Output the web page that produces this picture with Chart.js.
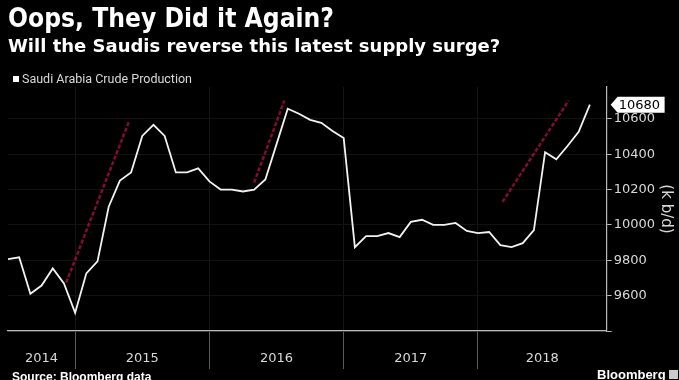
<!DOCTYPE html>
<html>
<head>
<meta charset="utf-8">
<script src="https://cdn.jsdelivr.net/npm/chart.js@4.4.1/dist/chart.umd.min.js"></script>
<style>
  html, body { margin: 0; padding: 0; background: #000; }
  #wrap { position: relative; width: 679px; height: 380px; background: #000; overflow: hidden; }
  #chart { position: absolute; left: 0; top: 0; }
  .txt { position: absolute; white-space: nowrap; transform-origin: 0 0; }
  #title { left: 8px; top: 3px; color: #fff; font: bold 26px 'DejaVu Sans'; transform: scaleX(0.905); }
  #subtitle { left: 8px; top: 35px; color: #fff; font: bold 18px 'DejaVu Sans'; }
  #legend { left: 13px; top: 71px; color: #d8d8d8; font: 12.5px Roboto; }
  #legend span { display: inline-block; width: 6px; height: 6px; background: #fff; margin-right: 3px; vertical-align: 1px; }
  #source { left: 12px; top: 370px; color: #fff; font: bold 12px 'Liberation Sans'; }
  #brand { left: 597px; top: 367px; color: #fff; font: bold 13px 'Liberation Sans'; }
  #brand span { display: inline-block; width: 9px; height: 9px; background: #ccc; margin-left: 3px; }
</style>
</head>
<body>
<div id="wrap">
  <canvas id="chart" width="679" height="380"></canvas>
  <div class="txt" id="title">Oops, They Did it Again?</div>
  <div class="txt" id="subtitle">Will the Saudis reverse this latest supply surge?</div>
  <div class="txt" id="legend"><span></span>Saudi Arabia Crude Production</div>
  <div class="txt" id="source">Source: Bloomberg data</div>
  <div class="txt" id="brand">Bloomberg<span></span></div>
</div>
<script>
// Monthly data, first point is July 2014
const firstYear = 2014;
const firstMonth = 7;
const years = ['2014', '2015', '2016', '2017', '2018'];

// Saudi crude production, thousand barrels a day
const production = [
    9806, 9817, 9611, 9657, 9754, 9669,               // Jul-Dec 2014
    9503, 9726, 9794, 10103, 10251, 10297,            // 2015
    10503, 10566, 10503, 10297, 10297, 10320,
    10246, 10200, 10200, 10189, 10200, 10257,         // 2016
    10457, 10657, 10629, 10594, 10577, 10531,
    10491, 9874, 9937, 9937, 9954, 9931,              // 2017
    10017, 10029, 10000, 10000, 10011, 9966,
    9954, 9960, 9886, 9874, 9897, 9971,               // 2018
    10411, 10371, 10446, 10526, 10680
];

// the red "surge" strokes: [month index, value] start and end
const surges = [
    [[5.2, 9674], [10.8, 10583]],
    [[22.0, 10240], [24.7, 10703]],
    [[44.2, 10131], [50.1, 10703]]
];

const yTicks = [9400, 9600, 9800, 10000, 10200, 10400, 10600];

// month index where each year starts, and the middle of each visible year
const lastIndex = 53.5;
const yearStarts = years.slice(1).map(y => (+y - firstYear) * 12 - (firstMonth - 1));
const yearMids = years.map((y, i) => {
    const a = i === 0 ? 0 : yearStarts[i - 1];
    const b = i < yearStarts.length ? yearStarts[i] : lastIndex;
    return (a + b) / 2;
});

const lastValueTag = {
    id: 'lastValueTag',
    afterDraw(chart) {
        const ctx = chart.ctx;
        const y = chart.scales.y.getPixelForValue(production[production.length - 1]);
        const x = chart.chartArea.right + 5;
        ctx.save();
        ctx.fillStyle = '#fff';
        ctx.beginPath();
        ctx.moveTo(x - 1, y);
        ctx.lineTo(x + 6, y - 8);
        ctx.lineTo(x + 53, y - 8);
        ctx.lineTo(x + 53, y + 8);
        ctx.lineTo(x + 6, y + 8);
        ctx.closePath();
        ctx.fill();
        ctx.fillStyle = '#000';
        ctx.font = '13px "DejaVu Sans"';
        ctx.textBaseline = 'middle';
        ctx.fillText(String(production[production.length - 1]), x + 7, y + 1);
        ctx.restore();
    }
};

const surgeSets = surges.map(s => ({
    data: s.map(p => ({ x: p[0], y: p[1] })),
    borderColor: 'rgba(175, 18, 65, 0.75)',
    borderWidth: 2.5,
    borderDash: [4, 2],
    pointRadius: 0,
    tension: 0
}));

new Chart(document.getElementById('chart'), {
    type: 'line',
    data: {
        datasets: [{
            label: 'Saudi Arabia Crude Production',
            data: production.map((v, i) => ({ x: i, y: v })),
            borderColor: '#f2f2f2',
            borderWidth: 1.8,
            pointRadius: 0,
            tension: 0
        }].concat(surgeSets)
    },
    options: {
        responsive: false,
        animation: false,
        layout: { padding: { left: 8, right: 2, top: 87, bottom: 9 } },
        plugins: { legend: { display: false }, tooltip: { enabled: false } },
        scales: {
            x: {
                type: 'linear',
                min: 0,
                max: lastIndex,
                afterBuildTicks: axis => {
                    axis.ticks = yearStarts.concat(yearMids).sort((a, b) => a - b).map(v => ({ value: v }));
                },
                // year dividers run down through the label row, so the labels sit inside the tick length
                afterFit: axis => { axis.height = 40; },
                ticks: {
                    autoSkip: false,
                    maxRotation: 0,
                    padding: -18,
                    color: '#d8d8d8',
                    font: { family: 'DejaVu Sans', size: 13 },
                    callback: v => {
                        const i = yearMids.indexOf(v);
                        return i >= 0 ? years[i] : '';
                    }
                },
                grid: {
                    tickLength: 38,
                    color: c => yearStarts.includes(c.tick && c.tick.value) ? '#151515' : 'transparent',
                    tickColor: c => yearStarts.includes(c.tick && c.tick.value) ? '#5a5a5a' : 'transparent'
                },
                border: { color: '#bbb', width: 1.2 }
            },
            y: {
                position: 'right',
                min: 9400,
                max: 10780,
                afterBuildTicks: axis => {
                    axis.ticks = yTicks.map(v => ({ value: v }));
                },
                ticks: {
                    padding: 2,
                    color: '#d8d8d8',
                    font: { family: 'DejaVu Sans', size: 13 },
                    callback: v => v === yTicks[0] ? '' : String(v)
                },
                grid: { tickLength: 5, color: '#121212', tickColor: '#bbb' },
                border: { color: '#bbb', width: 1.2 },
                title: {
                    display: true,
                    text: '(k b/d)',
                    color: '#d8d8d8',
                    font: { family: 'DejaVu Sans', size: 15 },
                    padding: { top: 2, bottom: 0 }
                }
            }
        }
    },
    plugins: [lastValueTag]
});
</script>
</body>
</html>
